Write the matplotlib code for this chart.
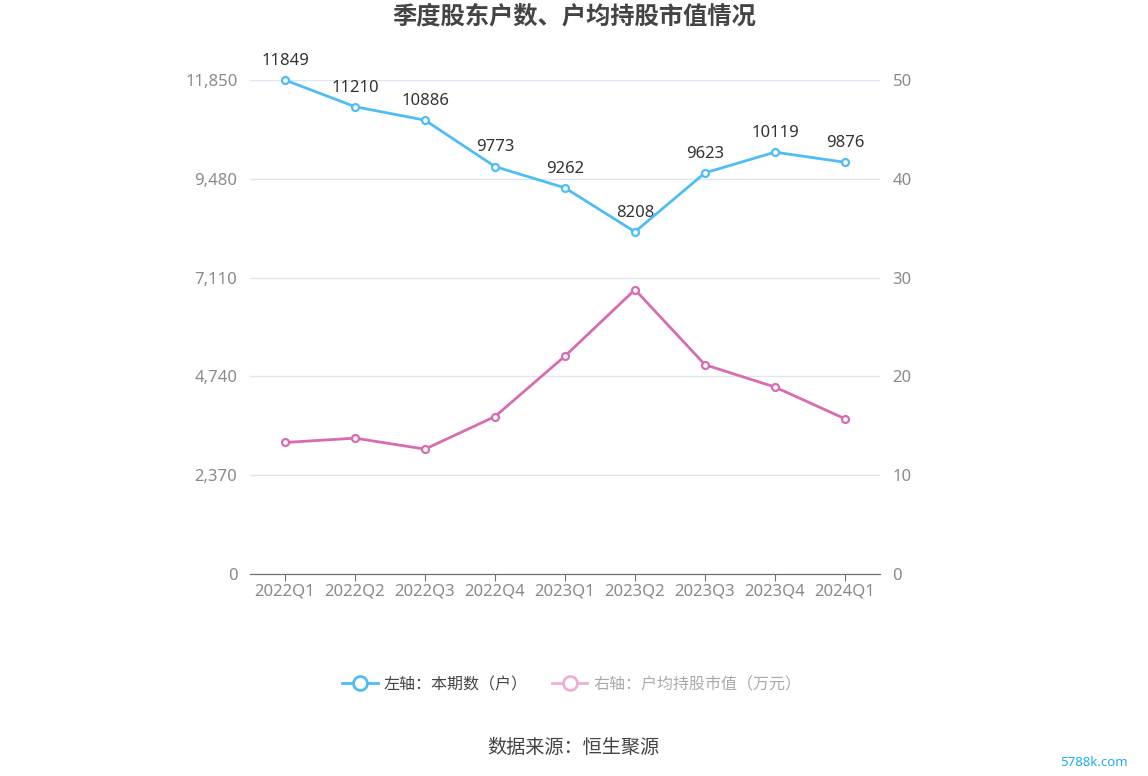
import matplotlib.pyplot as plt
from matplotlib.lines import Line2D

plt.rcParams['font.family'] = ['Noto Sans', 'Noto Sans CJK SC', 'DejaVu Sans']

quarters = ['2022Q1', '2022Q2', '2022Q3', '2022Q4', '2023Q1',
            '2023Q2', '2023Q3', '2023Q4', '2024Q1']
holders = [11849, 11210, 10886, 9773, 9262, 8208, 9623, 10119, 9876]
avg_value = [13.31, 13.75, 12.64, 15.94, 22.06, 28.78, 21.18, 18.92, 15.71]
left_ticks = [0, 2370, 4740, 7110, 9480, 11850]
left_tick_labels = ['0', '2,370', '4,740', '7,110', '9,480', '11,850']
right_ticks = [0, 10, 20, 30, 40, 50]

blue = '#4fbdf5'
pink = '#d96bb2'
grid_c = '#e0e6f1'
tick_c = '#8a8a8a'

fig = plt.figure(figsize=(11.48, 7.76), dpi=100)
ax = fig.add_axes([250/1148, 1-574/776, 630/1148, 494/776])
ax2 = ax.twinx()

x = list(range(len(quarters)))

ax.set_ylim(0, 11850)
ax.set_yticks(left_ticks)
ax.set_yticklabels(left_tick_labels)
ax.set_xlim(-0.5, len(quarters) - 0.5)
ax.set_xticks(x)
ax.set_xticklabels(quarters)
ax.grid(axis='y', color=grid_c, linewidth=1)
ax.set_axisbelow(True)

ax2.set_ylim(0, 50)
ax2.set_yticks(right_ticks)

for a in (ax, ax2):
    for s in ('top', 'left', 'right'):
        a.spines[s].set_visible(False)
    a.spines['bottom'].set_color('#6e7079')
    a.tick_params(axis='y', length=0, labelsize=12, labelcolor=tick_c, pad=9)
ax.tick_params(axis='x', length=5, color='#6e7079', labelsize=12,
               labelcolor=tick_c, pad=2)

ax.plot(x, holders, color=blue, linewidth=2, marker='o', markersize=5,
        markerfacecolor='white', markeredgecolor=blue, markeredgewidth=1.6,
        zorder=5, clip_on=False)
ax2.plot(x, avg_value, color=pink, linewidth=2, marker='o', markersize=5,
         markerfacecolor='white', markeredgecolor=pink, markeredgewidth=1.6,
         zorder=5, clip_on=False)

for xi, v in zip(x, holders):
    ax.annotate(str(v), (xi, v), xytext=(0, 8), textcoords='offset points',
                ha='center', va='bottom', fontsize=12, color='#333333')

fig.text(0.5, 0.977, '季度股东户数、户均持股市值情况', ha='center', va='center',
         fontsize=17.5, fontweight='bold', color='#444444')

handles = [
    Line2D([], [], color=blue, linewidth=2, marker='o', markersize=10,
           markerfacecolor='white', markeredgewidth=2),
    Line2D([], [], color='#eeaed6', linewidth=2, marker='o', markersize=10,
           markerfacecolor='white', markeredgewidth=2),
]
leg = fig.legend(handles, ['左轴：本期数（户）', '右轴：户均持股市值（万元）'],
                 loc='center', bbox_to_anchor=(572/1148, 1-685/776), ncol=2,
                 frameon=False, fontsize=11.5, handlelength=2.2,
                 columnspacing=1.5, handletextpad=0.4)
leg.get_texts()[0].set_color('#444444')
leg.get_texts()[1].set_color('#aaaaaa')

fig.text(573/1148, 1-748/776, '数据来源：恒生聚源', ha='center', va='center',
         fontsize=13.8, color='#444444')
fig.text(1094/1148, 1-763/776, '5788k.com', ha='center', va='center',
         fontsize=9.5, color='#1aaef0')

fig.savefig('out.png', dpi=100)
